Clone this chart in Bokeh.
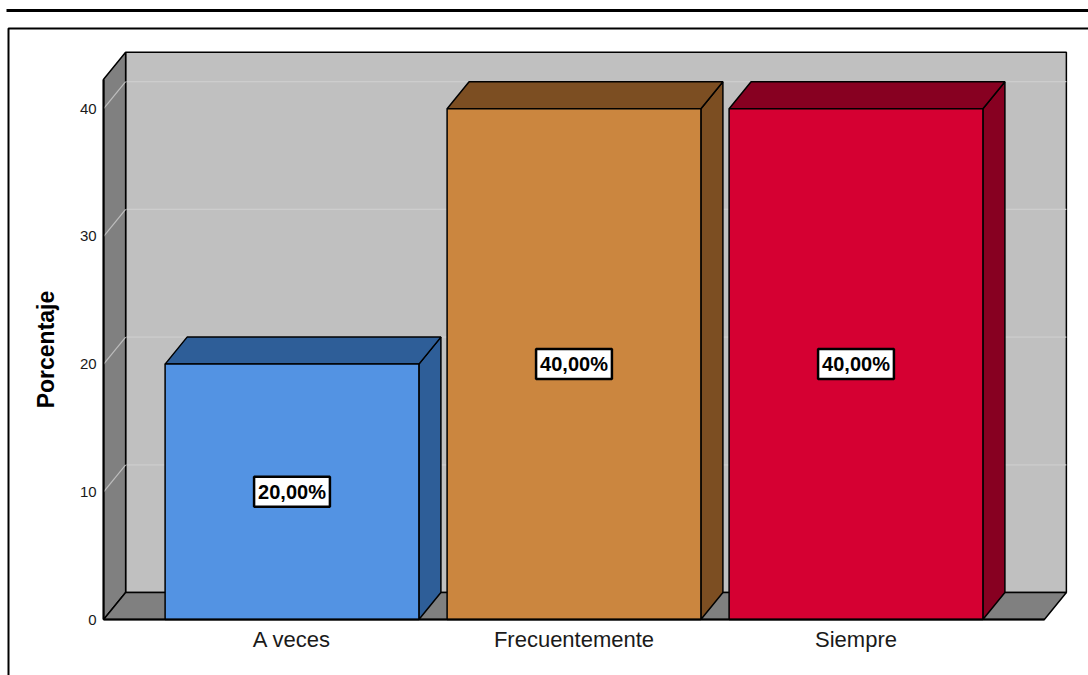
from bokeh.plotting import figure
from bokeh.models import Range1d, LinearAxis, FixedTicker, ColumnDataSource
from bokeh.core.properties import value
from bokeh.embed import file_html
from bokeh.resources import INLINE

# ---------------- data ----------------
categories = ["A veces", "Frecuentemente", "Siempre"]
percentages = [20.0, 40.0, 40.0]
value_labels = ["20,00%", "40,00%", "40,00%"]
y_ticks = [0, 10, 20, 30, 40]

front_colors = ["#5393E3", "#CB863F", "#D50032"]
dark_colors = ["#2E5E98", "#7C4E22", "#870021"]

# ---------------- geometry (in axis units) ----------------
W, H = 1088, 675
PX_PER_CAT = 282.0      # pixels per category step
PX_PER_VAL = 12.77      # pixels per percentage point
ZERO_X_PX = 291.5       # pixel x of first category
ZERO_Y_PX = 619.0       # pixel y of value 0

X0 = -ZERO_X_PX / PX_PER_CAT
X1 = X0 + W / PX_PER_CAT
Y1 = ZERO_Y_PX / PX_PER_VAL
Y0 = Y1 - H / PX_PER_VAL

BAR_W = 0.9
DX = 22 / PX_PER_CAT     # depth offset, x
DY = 27 / PX_PER_VAL     # depth offset, y
PAD = 0.668              # front plane half-margin beyond outer categories
WALL_TOP = 42.3

FONT = "Liberation Sans"

def px_x(px):
    return X0 + px / PX_PER_CAT

def px_y(py):
    return Y1 - py / PX_PER_VAL

p = figure(width=W, height=H, x_range=Range1d(X0, X1), y_range=Range1d(Y0, Y1),
           min_border=0, toolbar_location=None, output_backend="svg",
           x_axis_location=None, y_axis_location=None)
p.outline_line_color = None
p.background_fill_color = "white"
p.border_fill_color = "white"
p.xgrid.visible = False
p.ygrid.visible = False

n = len(categories)
xl = -PAD
xr = (n - 1) + PAD

# page decoration: top rule and outer box
p.line([px_x(6), px_x(1088)], [px_y(10), px_y(10)], line_color="black", line_width=3)
p.line([px_x(8), px_x(8), px_x(1090)], [px_y(700), px_y(28), px_y(28)], line_color="black", line_width=2)

# back wall
p.patch([xl + DX, xr + DX, xr + DX, xl + DX], [DY, DY, WALL_TOP + DY, WALL_TOP + DY],
        fill_color="#C0C0C0", line_color="black", line_width=1.5)
# back wall gridlines
for v in y_ticks[1:]:
    p.line([xl + DX, xr + DX], [v + DY, v + DY], line_color="#CDCDCD", line_width=1.2)

# left wall
p.patch([xl, xl, xl + DX, xl + DX], [0, WALL_TOP, WALL_TOP + DY, DY],
        fill_color="#808080", line_color="black", line_width=1.5)
for v in y_ticks[1:]:
    p.line([xl, xl + DX], [v, v + DY], line_color="#BDBDBD", line_width=1.2)

# floor
p.patch([xl, xr, xr + DX, xl + DX], [0, 0, DY, DY],
        fill_color="#808080", line_color="black", line_width=1.5)

# bars (3D)
side_xs, side_ys, top_xs, top_ys, front_xs, front_ys = [], [], [], [], [], []
for i, v in enumerate(percentages):
    a, b = i - BAR_W / 2, i + BAR_W / 2
    side_xs.append([b, b + DX, b + DX, b])
    side_ys.append([0, DY, v + DY, v])
    top_xs.append([a, a + DX, b + DX, b])
    top_ys.append([v, v + DY, v + DY, v])
    front_xs.append([a, b, b, a])
    front_ys.append([0, 0, v, v])

p.patches(side_xs, side_ys, fill_color=dark_colors, line_color="black", line_width=1.5)
p.patches(top_xs, top_ys, fill_color=dark_colors, line_color="black", line_width=1.5)
p.patches(front_xs, front_ys, fill_color=front_colors, line_color="black", line_width=1.5)

# value labels
src = ColumnDataSource(dict(x=list(range(n)), y=[v / 2 for v in percentages], t=value_labels))
p.text(x="x", y="y", text="t", source=src, text_align="center", text_baseline="middle",
       text_font=value(FONT), text_font_style="bold", text_font_size="20px", text_color="black",
       background_fill_color="white", border_line_color="black", border_line_width=2.5,
       padding=4)

# y axis (front edge of left wall)
yax = LinearAxis(fixed_location=xl, ticker=FixedTicker(ticks=y_ticks), bounds=(0, WALL_TOP))
yax.axis_label = "Porcentaje"
yax.axis_label_text_font = FONT
yax.axis_label_text_font_style = "bold"
yax.axis_label_text_font_size = "23px"
yax.axis_label_text_color = "black"
yax.axis_label_standoff = 18
yax.major_label_text_font = FONT
yax.major_label_text_font_size = "15px"
yax.major_label_text_color = "#1a1a1a"
yax.major_label_standoff = 7
yax.major_tick_in = 0
yax.major_tick_out = 0
yax.minor_tick_in = 0
yax.minor_tick_out = 0
yax.axis_line_color = "black"
yax.axis_line_width = 2
p.add_layout(yax, "left")

# x axis (front edge of floor)
xax = LinearAxis(fixed_location=0, ticker=FixedTicker(ticks=list(range(n))), bounds=(xl, xr),
                 major_label_overrides={i: c for i, c in enumerate(categories)})
xax.major_label_text_font = FONT
xax.major_label_text_font_size = "22px"
xax.major_label_text_color = "#1a1a1a"
xax.major_label_standoff = 7
xax.major_tick_in = 0
xax.major_tick_out = 0
xax.minor_tick_in = 0
xax.minor_tick_out = 0
xax.axis_line_color = "black"
xax.axis_line_width = 2
p.add_layout(xax, "below")

open("out.html", "w").write(file_html(p, INLINE))
